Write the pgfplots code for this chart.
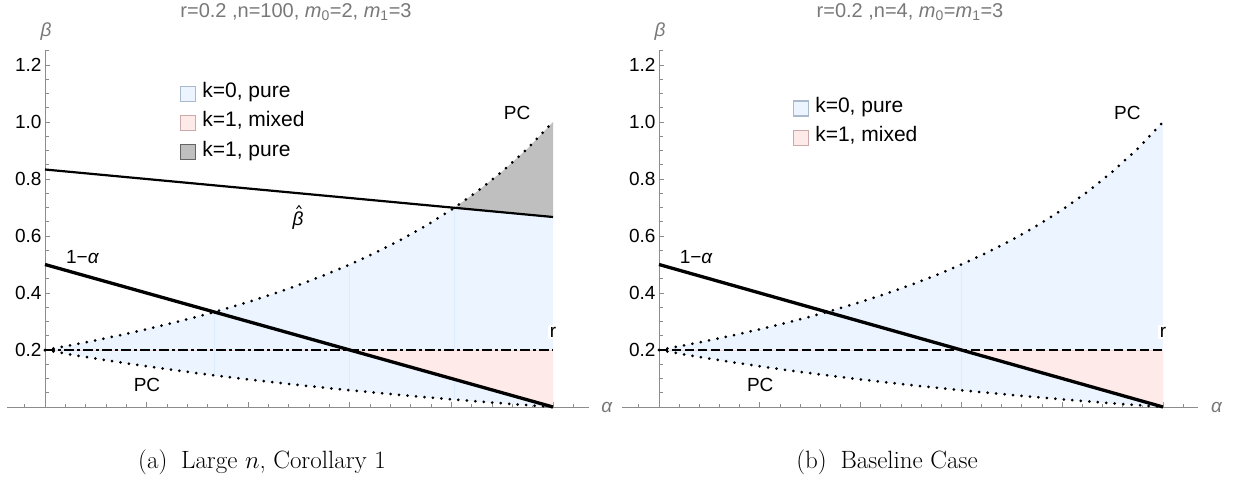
\documentclass[border=0pt]{standalone}
\usepackage{fontspec}
\setsansfont{Liberation Sans}
\usepackage{pgfplots}
\pgfplotsset{compat=1.18}
\usepackage{pgfplotstable}

\definecolor{kblue}{RGB}{235,244,255}
\definecolor{kblueedge}{RGB}{170,186,204}
\definecolor{kbluevert}{RGB}{222,236,252}
\definecolor{kpink}{RGB}{255,234,234}
\definecolor{kpinkedge}{RGB}{204,170,170}
\definecolor{kpinkline}{RGB}{245,215,215}
\definecolor{kgray}{RGB}{191,191,191}
\definecolor{kgrayedge}{RGB}{100,100,100}
\definecolor{axgray}{RGB}{140,140,140}
\definecolor{labgray}{RGB}{120,120,120}

% u = alpha - 0.5 ; U = upper PC, L = lower PC
\pgfplotstableread{
u      U       L
0.000  0.20000 0.20000
0.025  0.21649 0.18447
0.050  0.23404 0.16981
0.075  0.25275 0.15596
0.100  0.27273 0.14286
0.125  0.29412 0.13043
0.150  0.31707 0.11864
0.175  0.34177 0.10744
0.200  0.36842 0.09677
0.225  0.39726 0.08661
0.250  0.42857 0.07692
0.275  0.46269 0.06767
0.300  0.50000 0.05882
0.325  0.54098 0.05036
0.350  0.58621 0.04225
0.375  0.63636 0.03448
0.400  0.69231 0.02703
0.425  0.75510 0.01987
0.450  0.82609 0.01299
0.475  0.90698 0.00637
0.500  1.00000 0.00000
}\pcdata

\tikzset{
  lab/.style={font=\sffamily\fontsize{19}{21}\selectfont},
  glab/.style={font=\sffamily\itshape\fontsize{19}{21}\selectfont, text=labgray},
}
\pgfplotsset{
  panel/.style={
    axis lines=middle,
    every inner x axis line/.append style={-},
    every inner y axis line/.append style={-},
    axis line style={axgray, line width=0.9pt},
    xmin=-0.037, xmax=0.535, ymin=0, ymax=1.25,
    y=285pt,
    xtick={0.1,0.2,0.3,0.4,0.5},
    minor xtick={-0.02,0.0,...,0.53},
    xticklabels={},
    ytick={0.2,0.4,0.6,0.8,1.0,1.2},
    minor ytick={0.05,0.1,...,1.26},
    yticklabel style={/pgf/number format/.cd, fixed, fixed zerofill, precision=1, assume math mode=true},
    tick label style={font=\sffamily\fontsize{19}{21}\selectfont, black},
    major tick length=5pt, minor tick length=3.5pt,
    tick style={axgray, line width=0.8pt},
    tick align=inside,
    clip=false,
    anchor=origin,
    legend cell align=left,
    legend image code/.code={\draw[##1, line width=1.2pt] (0pt,-7.5pt) rectangle (15pt,7.5pt);},
    legend style={draw=none, fill=none, anchor=north west, inner sep=0pt, outer sep=0pt,
      row sep=13pt, column sep=6pt, font=\sffamily\fontsize{21}{23}\selectfont,
      nodes={inner sep=0pt, text height=12pt, text depth=4pt}},
  },
  dotcurve/.style={black, line width=3pt, line cap=round, dash pattern=on 0pt off 8.5pt, forget plot},
}

\begin{document}
\begin{tikzpicture}
\path[use as bounding box] (0pt,0pt) rectangle (1236pt,-482pt);

% ---------------- left panel ----------------
\begin{axis}[panel, x=1016pt, at={(45pt,-407pt)}, legend style={at={(axis cs:0.133,1.128)}}]
\addlegendimage{fill=kblue, draw=kblueedge}
\addlegendentry{k=0, pure}
\addlegendimage{fill=kpink, draw=kpinkedge}
\addlegendentry{k=1, mixed}
\addlegendimage{fill=kgray, draw=kgrayedge}
\addlegendentry{k=1, pure}

\addplot[fill=kblue, draw=none, forget plot] coordinates {
(0,0.2) (0.025,0.21649) (0.05,0.23404) (0.075,0.25275) (0.1,0.27273) (0.125,0.29412)
(0.15,0.31707) (0.175,0.34177) (0.2,0.36842) (0.225,0.39726) (0.25,0.42857) (0.275,0.46269)
(0.3,0.5) (0.325,0.54098) (0.35,0.58621) (0.375,0.63636) (0.4,0.69231) (0.425,0.75510)
(0.45,0.82609) (0.475,0.90698) (0.5,1)
(0.5,0) (0.475,0.00637) (0.45,0.01299) (0.425,0.01987) (0.4,0.02703) (0.375,0.03448)
(0.35,0.04225) (0.325,0.05036) (0.3,0.05882) (0.275,0.06767) (0.25,0.07692) (0.225,0.08661)
(0.2,0.09677) (0.175,0.10744) (0.15,0.11864) (0.125,0.13043) (0.1,0.14286) (0.075,0.15596)
(0.05,0.16981) (0.025,0.18447)} -- cycle;
\addplot[fill=kgray, draw=none, forget plot] coordinates {
(0.40283,0.69906) (0.5,0.66667) (0.5,1) (0.475,0.90698) (0.45,0.82609) (0.425,0.75510)} -- cycle;
\addplot[kbluevert, line width=0.8pt, forget plot] coordinates {(0.16667,0.11111) (0.16667,0.33333)};
\addplot[kbluevert, line width=0.8pt, forget plot] coordinates {(0.3,0.05882) (0.3,0.5)};
\addplot[kbluevert, line width=0.8pt, forget plot] coordinates {(0.40283,0.0262) (0.40283,0.69906)};
\addplot[fill=kpink, draw=none, forget plot] coordinates {(0.3,0.2) (0.5,0.2) (0.5,0)} -- cycle;
\addplot[kpinkline, line width=1pt, forget plot] coordinates {(0,0.2) (0.5,0.2)};

\addplot[dotcurve] table[x=u, y=U] {\pcdata};
\addplot[dotcurve] table[x=u, y=L] {\pcdata};
\addplot[black, line width=2.2pt, forget plot] coordinates {(0,0.83333) (0.5,0.66667)};
\addplot[black, line width=3.3pt, forget plot] coordinates {(0,0.5) (0.5,0)};
\addplot[black, line width=2.6pt, dash pattern=on 10pt off 3pt on 3pt off 3pt, forget plot] coordinates {(0,0.2) (0.5,0.2)};

\node[lab] at (axis cs:0.4646,1.032) {PC};
\node[lab] at (axis cs:0.1004,0.077) {PC};
\node[lab] at (axis cs:0.037,0.526) {1−\textit{α}};
\node[lab, fill=white, inner sep=2pt] at (axis cs:0.5,0.263) {r};
\node[lab, inner sep=0pt] (bh) at (axis cs:0.249,0.655) {\textit{β}};
\draw[black, line width=0.9pt] ([xshift=-1.4pt,yshift=2.5pt]bh.north) -- ++(2.4pt,3.2pt) -- ++(2.4pt,-3.2pt);
\node[glab] at (axis cs:0.553,0) {α};
\node[glab] at (axis cs:0.001,1.316) {β};
\end{axis}

% ---------------- right panel ----------------
\begin{axis}[panel, x=1008pt, at={(659pt,-407pt)}, legend style={at={(axis cs:0.133,1.076)}}]
\addlegendimage{fill=kblue, draw=kblueedge}
\addlegendentry{k=0, pure}
\addlegendimage{fill=kpink, draw=kpinkedge}
\addlegendentry{k=1, mixed}

\addplot[fill=kblue, draw=none, forget plot] coordinates {
(0,0.2) (0.025,0.21649) (0.05,0.23404) (0.075,0.25275) (0.1,0.27273) (0.125,0.29412)
(0.15,0.31707) (0.175,0.34177) (0.2,0.36842) (0.225,0.39726) (0.25,0.42857) (0.275,0.46269)
(0.3,0.5) (0.325,0.54098) (0.35,0.58621) (0.375,0.63636) (0.4,0.69231) (0.425,0.75510)
(0.45,0.82609) (0.475,0.90698) (0.5,1)
(0.5,0) (0.475,0.00637) (0.45,0.01299) (0.425,0.01987) (0.4,0.02703) (0.375,0.03448)
(0.35,0.04225) (0.325,0.05036) (0.3,0.05882) (0.275,0.06767) (0.25,0.07692) (0.225,0.08661)
(0.2,0.09677) (0.175,0.10744) (0.15,0.11864) (0.125,0.13043) (0.1,0.14286) (0.075,0.15596)
(0.05,0.16981) (0.025,0.18447)} -- cycle;
\addplot[kbluevert, line width=0.8pt, forget plot] coordinates {(0.3,0.05882) (0.3,0.5)};
\addplot[fill=kpink, draw=none, forget plot] coordinates {(0.3,0.2) (0.5,0.2) (0.5,0)} -- cycle;
\addplot[kpinkline, line width=1pt, forget plot] coordinates {(0,0.2) (0.5,0.2)};

\addplot[dotcurve] table[x=u, y=U] {\pcdata};
\addplot[dotcurve] table[x=u, y=L] {\pcdata};
\addplot[black, line width=3.3pt, forget plot] coordinates {(0,0.5) (0.5,0)};
\addplot[black, line width=2.6pt, dash pattern=on 8.5pt off 4.5pt, forget plot] coordinates {(0,0.2) (0.5,0.2)};

\node[lab] at (axis cs:0.4646,1.032) {PC};
\node[lab] at (axis cs:0.1004,0.077) {PC};
\node[lab] at (axis cs:0.037,0.526) {1−\textit{α}};
\node[lab, fill=white, inner sep=2pt] at (axis cs:0.5,0.263) {r};
\node[glab] at (axis cs:0.553,0) {α};
\node[glab] at (axis cs:0.001,1.316) {β};
\end{axis}

% titles
\node[font=\sffamily\fontsize{20}{22}\selectfont, text=labgray] at (296pt,-12pt)
  {r=0.2 ,n=100, \textit{m}\textsubscript{0}=2, \textit{m}\textsubscript{1}=3};
\node[font=\sffamily\fontsize{20}{22}\selectfont, text=labgray] at (910pt,-12pt)
  {r=0.2 ,n=4, \textit{m}\textsubscript{0}=\textit{m}\textsubscript{1}=3};

% captions
\node[anchor=base, font=\fontsize{25}{29}\selectfont] at (262pt,-468pt) {(a)\hspace{0.55em}Large $n$, Corollary 1};
\node[anchor=base, font=\fontsize{25}{29}\selectfont] at (887pt,-468pt) {(b)\hspace{0.55em}Baseline Case};
\end{tikzpicture}
\end{document}
